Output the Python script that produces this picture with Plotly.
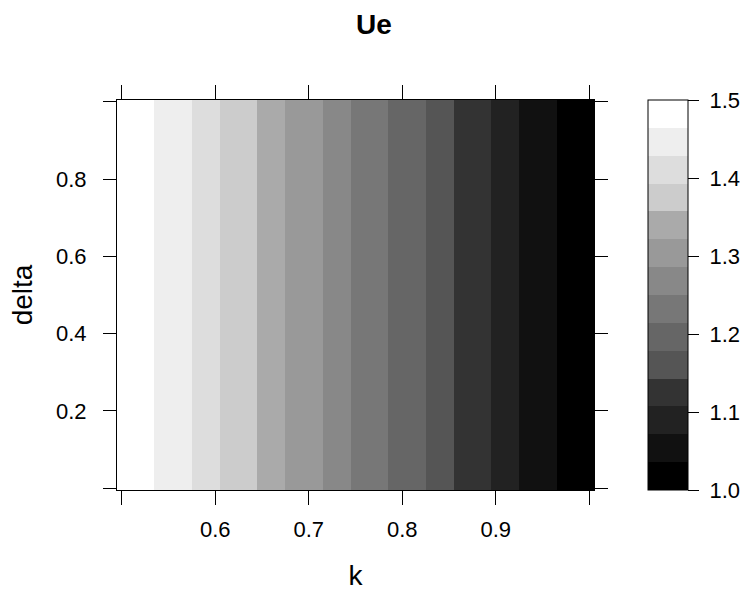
import plotly.graph_objects as go

# Data (levelplot of Ue over k and delta)
k_edges = [0.495, 0.535, 0.575, 0.605, 0.645, 0.675, 0.715, 0.745,
           0.785, 0.825, 0.855, 0.895, 0.925, 0.965, 1.005]
delta_edges = [-0.005, 1.005]
ue_levels = [1.48, 1.45, 1.41, 1.38, 1.34, 1.30, 1.27, 1.23,
             1.20, 1.16, 1.12, 1.09, 1.05, 1.02]
level_colors = ["#000000", "#111111", "#222222", "#333333", "#555555",
                "#666666", "#777777", "#888888", "#999999", "#AAAAAA",
                "#CCCCCC", "#DDDDDD", "#EEEEEE", "#FFFFFF"]
z_min, z_max = 1.0, 1.5
x_ticks = [0.5, 0.6, 0.7, 0.8, 0.9, 1.0]
x_ticktext = ["", "0.6", "0.7", "0.8", "0.9", ""]
y_ticks = [0.0, 0.2, 0.4, 0.6, 0.8, 1.0]
y_ticktext = ["", "0.2", "0.4", "0.6", "0.8", ""]
cb_ticks = [1.0, 1.1, 1.2, 1.3, 1.4, 1.5]

n = len(level_colors)
colorscale = []
for i, c in enumerate(level_colors):
    colorscale.append([i / n, c])
    colorscale.append([(i + 1) / n, c])

FONT = "Liberation Sans, Arial, sans-serif"

fig = go.Figure(go.Heatmap(
    x=k_edges, y=delta_edges, z=[ue_levels],
    zmin=z_min, zmax=z_max, colorscale=colorscale,
    colorbar=dict(
        x=1.1132, xanchor="left", xpad=0,
        y=0.5, yanchor="middle", len=1.0, ypad=0,
        thickness=40, outlinewidth=1, outlinecolor="black",
        tickvals=cb_ticks, ticktext=["\u00a0" + f"{v:.1f}" for v in cb_ticks],
        ticks="outside", ticklen=11, tickwidth=1, tickcolor="black",
        tickfont=dict(family=FONT, size=22, color="black"),
    ),
))

fig.update_layout(
    width=744, height=591,
    margin=dict(l=117, r=150, t=100, b=101, autoexpand=False),
    paper_bgcolor="white", plot_bgcolor="white",
    font=dict(family=FONT, color="black"),
    showlegend=False,
)
fig.add_annotation(
    text="<b>Ue</b>", xref="paper", yref="paper",
    x=0.5388, y=1 + 76 / 390, xanchor="center", yanchor="middle",
    showarrow=False, font=dict(family=FONT, size=28, color="black"),
)
fig.update_xaxes(
    range=[0.495, 1.005], tickvals=x_ticks, ticktext=x_ticktext,
    ticks="outside", ticklen=14, tickwidth=1, tickcolor="black",
    showline=True, linecolor="black", linewidth=1, mirror="ticks",
    showgrid=False, zeroline=False, ticklabelstandoff=6,
    tickfont=dict(family=FONT, size=22, color="black"),
    title=dict(text="k", standoff=24, font=dict(family=FONT, size=28, color="black")),
)
fig.update_yaxes(
    range=[-0.005, 1.005], tickvals=y_ticks, ticktext=y_ticktext,
    ticks="outside", ticklen=13, tickwidth=1, tickcolor="black",
    showline=True, linecolor="black", linewidth=1, mirror="ticks",
    showgrid=False, zeroline=False, ticklabelstandoff=12,
    tickfont=dict(family=FONT, size=22, color="black"),
    title=dict(text="delta", standoff=15, font=dict(family=FONT, size=28, color="black")),
)

fig.write_html("out.html", config={"displayModeBar": False},
               post_script="document.body.style.margin='0px';")
